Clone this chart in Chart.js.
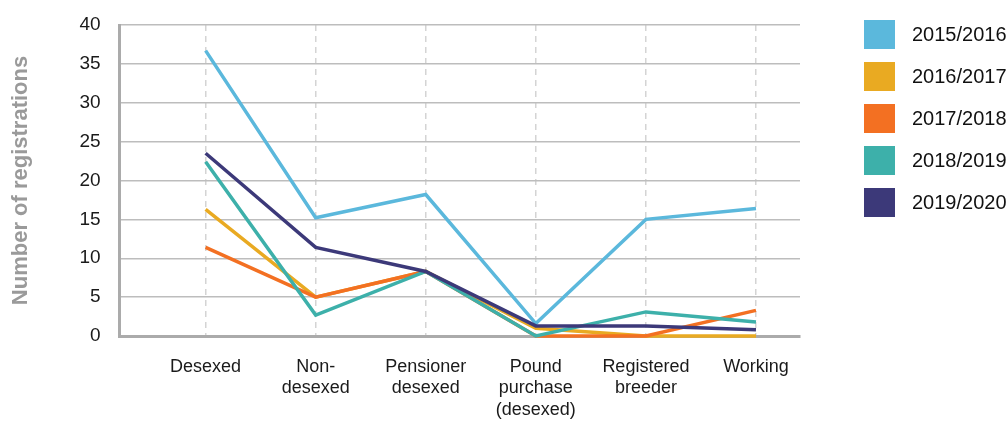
<!DOCTYPE html>
<html>
<head>
<meta charset="utf-8">
<script src="https://cdn.jsdelivr.net/npm/chart.js@4/dist/chart.umd.min.js"></script>
<style>
  body { margin: 0; background: #fff; }
  #wrap { position: relative; width: 1008px; height: 424px; }
  #legende { position: absolute; left: 864px; top: 20px; font-family: "Liberation Sans", Arial, sans-serif; font-size: 20px; color: #111; }
  .item { display: flex; align-items: center; height: 29px; margin-bottom: 13px; }
  .carre { width: 31px; height: 29px; margin-right: 17px; }
</style>
</head>
<body>
<div id="wrap">
  <canvas id="graphique" width="1008" height="424"></canvas>
  <div id="legende"></div>
</div>
<script>
// --- Données ---
const categories = [
  ['Desexed'],
  ['Non-', 'desexed'],
  ['Pensioner', 'desexed'],
  ['Pound', 'purchase', '(desexed)'],
  ['Registered', 'breeder'],
  ['Working']
];
const annees = ['2015/2016', '2016/2017', '2017/2018', '2018/2019', '2019/2020'];
const couleurs = ['#5bb8dc', '#e9aa22', '#f37022', '#3db0aa', '#3c3979'];

const v2015 = [36.7, 15.2, 18.2, 1.6, 15.0, 16.4];
const v2016 = [16.3, 5.0, 8.3, 1.0, 0, 0];
const v2017 = [11.4, 5.0, 8.3, 0, 0, 3.3];
const v2018 = [22.4, 2.7, 8.3, 0, 3.1, 1.8];
const v2019 = [23.5, 11.4, 8.3, 1.3, 1.3, 0.8];
const series = [v2015, v2016, v2017, v2018, v2019];

const yTicks = [0, 5, 10, 15, 20, 25, 30, 35, 40];

// --- Légende ---
const legende = document.getElementById('legende');
annees.forEach((annee, i) => {
  const div = document.createElement('div');
  div.className = 'item';
  div.innerHTML = '<span class="carre" style="background:' + couleurs[i] + '"></span>' + annee;
  legende.appendChild(div);
});

// --- Graphique ---
const police = '"Liberation Sans", Arial, sans-serif';
const datasets = series.map((valeurs, i) => ({
  label: annees[i],
  data: valeurs.map((v, j) => ({ x: j, y: v })),
  borderColor: couleurs[i],
  backgroundColor: couleurs[i],
  borderWidth: 3.5,
  pointRadius: 0,
  tension: 0,
  clip: false,
  order: series.length - 1 - i
}));

new Chart(document.getElementById('graphique'), {
  type: 'line',
  data: { datasets: datasets },
  options: {
    responsive: false,
    animation: false,
    layout: { padding: { left: 4, right: 208, top: 25, bottom: 2 } },
    plugins: { legend: { display: false }, tooltip: { enabled: false } },
    scales: {
      x: {
        type: 'linear',
        min: -0.782,
        max: 5.4,
        afterBuildTicks: axis => { axis.ticks = categories.map((c, i) => ({ value: i })); },
        afterFit: axis => { axis.height = 86; },
        ticks: {
          callback: v => categories[v],
          color: '#1a1a1a',
          font: { family: police, size: 18 },
          padding: 20,
          maxRotation: 0,
          autoSkip: false
        },
        grid: { color: '#d4d4d4', lineWidth: 1.5, drawTicks: false },
        border: { color: '#ababab', width: 3, dash: [6, 5] }
      },
      y: {
        min: 0,
        max: 40,
        afterBuildTicks: axis => { axis.ticks = yTicks.map(v => ({ value: v })); },
        afterFit: axis => { axis.paddingTop = 0; axis.paddingBottom = 0; },
        ticks: {
          color: '#1a1a1a',
          font: { family: police, size: 19 },
          padding: 19
        },
        grid: { color: '#bdbdbd', lineWidth: 1.5, drawTicks: false },
        border: { color: '#ababab', width: 3 },
        title: {
          display: true,
          text: 'Number of registrations',
          color: '#9a9a9a',
          font: { family: police, size: 22, weight: 'bold' },
          padding: { top: 4, bottom: 26 }
        }
      }
    }
  }
});
</script>
</body>
</html>
